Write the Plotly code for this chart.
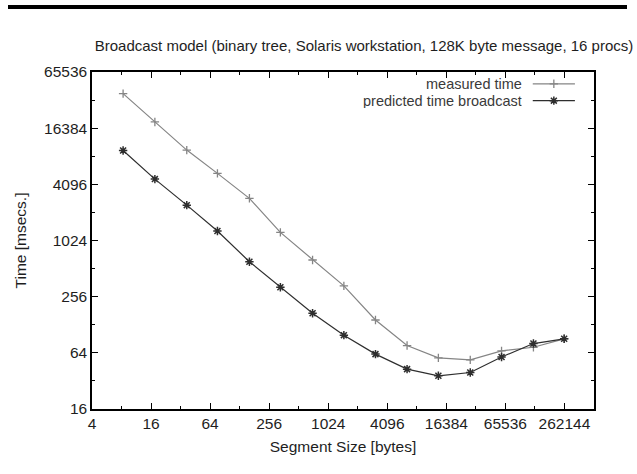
import math
import plotly.graph_objects as go

# ---- data ----
segment_size = [8.3, 17.5, 37, 76, 161, 333, 709, 1478, 3104, 6516, 13585, 28720, 59860, 126500, 260300]
measured_time = [38400, 19100, 9540, 5370, 2900, 1250, 633, 334, 144, 76.6, 56.5, 53.8, 67.2, 73.5, 90.5]
predicted_time = [9450, 4660, 2450, 1294, 607, 323, 170, 99, 62, 42.8, 36.3, 39.4, 57.7, 80.5, 90.5]

x_major = [4, 16, 64, 256, 1024, 4096, 16384, 65536, 262144]
x_minor = [8, 32, 128, 512, 2048, 8192, 32768, 131072]
y_major = [16, 64, 256, 1024, 4096, 16384, 65536]
y_minor = [32, 128, 512, 2048, 8192, 32768]

series_names = ["measured time", "predicted time broadcast"]
title_text = "Broadcast model (binary tree, Solaris workstation, 128K byte message, 16 procs)"

FONT = "Liberation Sans, Arial, sans-serif"
MEAS_COL = "#858585"
PRED_COL = "#2e2e2e"
TXT = "#1e1e1e"
FS = 15.5

meas_marker = dict(symbol="cross-thin-open", size=6, color=MEAS_COL, line=dict(color=MEAS_COL, width=1.3))
pred_marker = dict(symbol="asterisk-open", size=7, color=PRED_COL, line=dict(color=PRED_COL, width=1.5))

fig = go.Figure()
fig.add_trace(go.Scatter(x=segment_size, y=measured_time, mode="lines+markers",
                         line=dict(color=MEAS_COL, width=1.2), marker=meas_marker, showlegend=False))
fig.add_trace(go.Scatter(x=segment_size, y=predicted_time, mode="lines+markers",
                         line=dict(color=PRED_COL, width=1.2), marker=pred_marker, showlegend=False))

# legend samples (gnuplot style: text left, sample right) on an overlay axis
leg_rows = [0.965, 0.915]
leg_cols = [MEAS_COL, PRED_COL]
leg_marks = [meas_marker, pred_marker]
for name, yy, col, mk in zip(series_names, leg_rows, leg_cols, leg_marks):
    fig.add_trace(go.Scatter(x=[0.878, 0.962], y=[yy, yy], mode="lines",
                             line=dict(color=col, width=1.2), xaxis="x2", yaxis="y2",
                             showlegend=False, hoverinfo="skip"))
    fig.add_trace(go.Scatter(x=[0.92], y=[yy], mode="markers", marker=mk,
                             xaxis="x2", yaxis="y2", showlegend=False, hoverinfo="skip"))
    fig.add_annotation(x=0.858, y=yy, xref="x2", yref="y2", text=name, showarrow=False,
                       xanchor="right", yanchor="middle", height=15, borderpad=0,
                       font=dict(family=FONT, size=14.5, color="#3a3a3a"))

axis_common = dict(
    type="log", showgrid=False, zeroline=False, showline=True, linecolor="black",
    linewidth=1.5, mirror="allticks", ticks="inside", ticklen=6, tickwidth=1,
    tickcolor="black", tickfont=dict(family=FONT, size=FS, color=TXT),
)

fig.update_layout(
    width=637, height=474,
    margin=dict(l=92, r=43, t=72, b=65),
    paper_bgcolor="white", plot_bgcolor="white",
    font=dict(family=FONT, size=FS, color=TXT),
    title=dict(text=title_text, x=364 / 637, xref="container", xanchor="center",
               y=1 - 46 / 474, yref="container", yanchor="middle",
               font=dict(family=FONT, size=15, color=TXT)),
    xaxis=dict(axis_common, range=[math.log10(4), math.log10(524288)],
               tickvals=x_major, ticktext=[str(v) for v in x_major],
               minor=dict(tickvals=x_minor, ticks="inside", ticklen=3, tickcolor="black"),
               title=dict(text="Segment Size [bytes]", standoff=10,
                          font=dict(family=FONT, size=FS, color=TXT))),
    yaxis=dict(axis_common, range=[math.log10(16), math.log10(65536)],
               tickvals=y_major, ticktext=[str(v) for v in y_major],
               minor=dict(tickvals=y_minor, ticks="inside", ticklen=3, tickcolor="black"),
               title=dict(text="Time [msecs.]", standoff=14,
                          font=dict(family=FONT, size=FS, color=TXT))),
    xaxis2=dict(overlaying="x", range=[0, 1], visible=False, fixedrange=True),
    yaxis2=dict(overlaying="y", range=[0, 1], visible=False, fixedrange=True),
)
# thick rule across the top of the page
fig.add_shape(type="line", xref="paper", yref="paper",
              x0=(8 - 92) / 502, x1=(627 - 92) / 502,
              y0=(409 - 7) / 337, y1=(409 - 7) / 337,
              line=dict(color="black", width=4))

fig.write_html("out.html")
